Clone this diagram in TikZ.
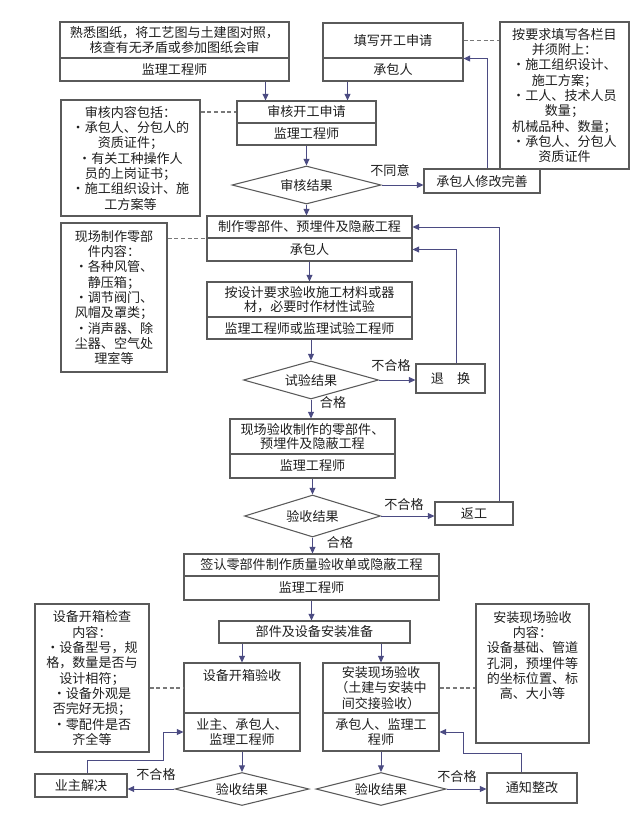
\documentclass[tikz,border=0pt]{standalone}
\usepackage{fontspec}
\setmainfont{Noto Sans CJK SC}
\usepackage{tikz}
\usetikzlibrary{shapes.geometric, arrows.meta}

\definecolor{boxline}{RGB}{90,90,90}
\definecolor{flowline}{RGB}{75,75,130}
\definecolor{dashline}{RGB}{120,120,120}
\definecolor{txt}{RGB}{30,30,30}

\begin{document}
\begin{tikzpicture}[x=0.75pt,y=0.75pt,yscale=-1,xscale=1,
  font=\fontsize{9.8}{11}\selectfont,
  box/.style={draw=boxline, line width=0.8pt, inner sep=0pt, align=center, text=txt},
  note/.style={box, font=\fontsize{9.8}{11.5}\selectfont},
  notetext/.style={inner sep=0pt, align=center, text=txt, font=\fontsize{9.8}{11.5}\selectfont},
  decide/.style={draw=boxline, line width=0.8pt, diamond, aspect=3.5, inner sep=0pt, text=txt},
  flow/.style={draw=flowline, line width=0.75pt, -{Triangle[length=5pt,width=4.5pt]}},
  link/.style={draw=dashline, line width=0.8pt, dash pattern={on 3pt off 2pt}},
  tag/.style={inner sep=0.75pt, text=txt}
]
\useasboundingbox (0,0) rectangle (640,818);

%Shape: Rectangle [top row]
\node [box, minimum width=171.75pt, minimum height=27pt] (shuxi) at (174.5,40) {熟悉图纸，将工艺图与土建图对照，\\核查有无矛盾或参加图纸会审};
\node [box, minimum width=171.75pt, minimum height=17.25pt] (shuxiR) at (174.5,69.5) {监理工程师};
\node [box, minimum width=105pt, minimum height=26.25pt] (tianxie) at (393,40.5) {填写开工申请};
\node [box, minimum width=105pt, minimum height=17.25pt] (tianxieR) at (393,69.5) {承包人};
\node [note, minimum width=96.75pt, minimum height=110.25pt] (yaoqiu) at (564.5,95.5) {按要求填写各栏目\\并须附上：\\·施工组织设计、\\施工方案；\\·工人、技术人员\\数量；\\机械品种、数量；\\·承包人、分包人\\资质证件};

%Shape: Rectangle [review]
\node [box, minimum width=104.25pt, minimum height=16.5pt] (shenhe) at (306.5,112) {审核开工申请};
\node [box, minimum width=104.25pt, minimum height=16.5pt] (shenheR) at (306.5,134) {监理工程师};
\node [note, minimum width=104.25pt, minimum height=87pt] (neirong) at (130.5,158) {审核内容包括：\\·承包人、分包人的\\资质证件；\\·有关工种操作人\\员的上岗证书；\\·施工组织设计、施\\工方案等};
\node [decide, minimum width=111.75pt, minimum height=28.5pt] (jieguoA) at (306.5,185) {审核结果};
\node [box, minimum width=87pt, minimum height=18pt] (xiugai) at (482,181) {承包人修改完善};

%Shape: Rectangle [making parts]
\node [box, minimum width=153.75pt, minimum height=16.5pt] (zhizuo) at (309.5,227) {制作零部件、预埋件及隐蔽工程};
\node [box, minimum width=153.75pt, minimum height=17.25pt] (zhizuoR) at (309.5,249.5) {承包人};
\node [note, minimum width=79.5pt, minimum height=111.75pt] (lingjian) at (114,297.5) {现场制作零部\\件内容：\\·各种风管、\\静压箱；\\·调节阀门、\\风帽及罩类；\\·消声器、除\\尘器、空气处\\理室等};
\node [box, minimum width=153.75pt, minimum height=26.25pt] (cailiao) at (309.5,299.5) {按设计要求验收施工材料或器\\材，必要时作材性试验};
\node [box, minimum width=153.75pt, minimum height=16.5pt] (cailiaoR) at (309.5,328) {监理工程师或监理试验工程师};
\node [decide, minimum width=101.25pt, minimum height=28.5pt] (jieguoB) at (311,380) {试验结果};
\node [box, minimum width=51.75pt, minimum height=21.75pt] (tuihuan) at (450.5,378.5) {退\quad 换};

%Shape: Rectangle [site check]
\node [box, minimum width=123.75pt, minimum height=26.25pt] (xianchang) at (312.5,436.5) {现场验收制作的零部件、\\预埋件及隐蔽工程};
\node [box, minimum width=123.75pt, minimum height=18pt] (xianchangR) at (312.5,466) {监理工程师};
\node [decide, minimum width=102pt, minimum height=31.5pt] (jieguoC) at (312.5,516) {验收结果};
\node [box, minimum width=58.5pt, minimum height=17.25pt] (fangong) at (474,513.5) {返工};
\node [box, minimum width=191.25pt, minimum height=16.5pt] (qianren) at (311.5,565) {签认零部件制作质量验收单或隐蔽工程};
\node [box, minimum width=191.25pt, minimum height=18pt] (qianrenR) at (311.5,588) {监理工程师};
\node [box, minimum width=143.25pt, minimum height=16.5pt] (zhunbei) at (314.5,632) {部件及设备安装准备};

%Shape: Rectangle [equipment]
\node [box, minimum width=87pt, minimum height=37.5pt] (kaixiang) at (242,688) {};
\node [tag] (kaixiangT) at (242,676) {设备开箱验收};
\node [box, minimum width=87pt, minimum height=28.5pt] (kaixiangR) at (242,732) {业主、承包人、\\监理工程师};
\node [note, minimum width=87pt, minimum height=37.5pt] (anzhuang) at (381,688) {安装现场验收\\（土建与安装中\\间交接验收）};
\node [box, minimum width=87pt, minimum height=28.5pt] (anzhuangR) at (381,732) {承包人、监理工\\程师};
\node [note, minimum width=85.5pt, minimum height=111pt] (jiancha) at (92,678) {设备开箱检查\\内容：\\·设备型号，规\\格，数量是否与\\设计相符；\\·设备外观是\\否完好无损；\\·零配件是否\\齐全等};
\node [box, minimum width=84.75pt, minimum height=104.25pt] (yanshou) at (532.5,673.5) {};
\node [notetext] (yanshouT) at (532.5,655.5) {安装现场验收\\内容：\\设备基础、管道\\孔洞，预埋件等\\的坐标位置、标\\高、大小等};
\node [decide, minimum width=100.5pt, minimum height=24.75pt] (jieguoD) at (242,789) {验收结果};
\node [decide, minimum width=97.5pt, minimum height=24.75pt] (jieguoE) at (381,789) {验收结果};
\node [box, minimum width=69pt, minimum height=17.25pt] (yezhu) at (81,785.5) {业主解决};
\node [box, minimum width=67.5pt, minimum height=22.5pt] (tongzhi) at (532,788) {通知整改};

% Text Node
\node [tag] (butongyi) at (390,170) {不同意};
\node [tag] (buhegeB) at (391,366) {不合格};
\node [tag] (hegeB) at (333,403) {合格};
\node [tag] (buhegeC) at (404,505) {不合格};
\node [tag] (hegeC) at (340,543) {合格};
\node [tag] (buhegeD) at (156,775) {不合格};
\node [tag] (buhegeE) at (457,777) {不合格};

%Straight Lines
\draw [flow] ([xshift=-18pt]shuxiR.south east) -- ([xshift=-18pt]shuxiR.south east |- shenhe.north);
\draw [flow] ([xshift=-21.75pt]shenhe.north east |- tianxieR.south) -- ([xshift=-21.75pt]shenhe.north east);
\draw [flow] (shenheR.south) -- (jieguoA.north);
\draw [flow] (jieguoA.south) -- (jieguoA.south |- zhizuo.north);
\draw [flow] (zhizuoR.south) -- (cailiao.north);
\draw [flow] (cailiaoR.south -| jieguoB.north) -- (jieguoB.north);
\draw [flow] (jieguoB.south) -- (jieguoB.south |- xianchang.north);
\draw [flow] (xianchangR.south -| jieguoC.north) -- (jieguoC.north);
\draw [flow] (jieguoC.south) -- (jieguoC.south |- qianren.north);
\draw [flow] (qianrenR.south) -- (qianrenR.south |- zhunbei.north);
\draw [flow] (zhunbei.south -| kaixiang.north) -- (kaixiang.north);
\draw [flow] (zhunbei.south -| anzhuang.north) -- (anzhuang.north);
\draw [flow] (kaixiangR.south) -- (jieguoD.north);
\draw [flow] (anzhuangR.south) -- (jieguoE.north);

%Straight Lines [no]
\draw [flow] (jieguoA.east) -- (jieguoA.east -| xiugai.west);
\draw [flow] (jieguoB.east) -- (jieguoB.east -| tuihuan.west);
\draw [flow] (jieguoC.east) -- (jieguoC.east -| fangong.west);
\draw [flow] (jieguoD.west) -- (jieguoD.west -| yezhu.east);
\draw [flow] (jieguoE.east) -- (jieguoE.east -| tongzhi.west);

%Straight Lines [back]
\coordinate (bendA) at (163,760);
\coordinate (bendB) at (463,753);
\draw [flow] ([xshift=3.75pt]xiugai.north) |- (tianxie.south east);
\draw [flow] ([xshift=4.5pt]tuihuan.north) |- (zhizuoR.east);
\draw [flow] ([xshift=18.75pt]fangong.north) |- (zhizuo.east);
\draw [flow] ([xshift=4.5pt]yezhu.north) |- (bendA) |- (kaixiangR.west);
\draw [flow] ([xshift=-8.25pt]tongzhi.north) |- (bendB) |- (anzhuangR.east);

%Straight Lines [dashed]
\draw [link] (tianxie.east) -- (tianxie.east -| yaoqiu.west);
\draw [link] (neirong.east |- shenhe.west) -- (shenhe.west);
\draw [link] (lingjian.east |- zhizuo.south west) -- (zhizuo.south west);
\draw [link] (jiancha.east |- kaixiang.west) -- (kaixiang.west);
\draw [link] (anzhuang.east) -- (anzhuang.east -| yanshou.west);

\end{tikzpicture}
\end{document}
